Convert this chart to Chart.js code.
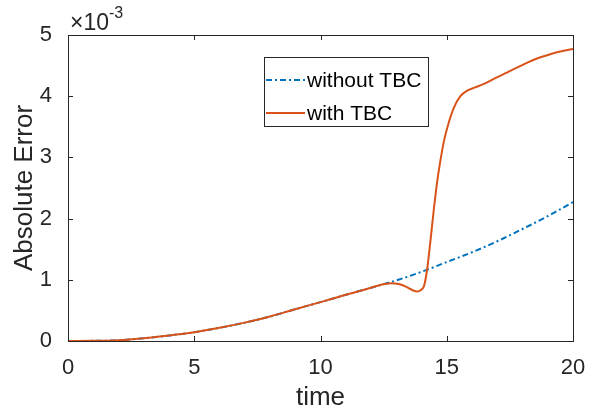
<!DOCTYPE html>
<html>
<head>
<meta charset="utf-8">
<script src="https://cdn.jsdelivr.net/npm/chart.js@4.4.0/dist/chart.umd.min.js"></script>
<style>
  html, body { margin: 0; padding: 0; background: #fff; }
  #wrap { width: 606px; height: 409px; }
</style>
</head>
<body>
<div id="wrap"><canvas id="errChart" width="606" height="409"></canvas></div>
<script>
// values are in units of 1e-3 (axis shows x10^-3)
const tWithout = [0, 1, 2, 3, 4, 5, 6, 7, 8, 9, 10, 11, 12, 13, 14, 15, 16, 17, 18, 19, 20];
const errWithout = [0, 0.003, 0.012, 0.045, 0.09, 0.144, 0.215, 0.30, 0.40, 0.52, 0.635, 0.755, 0.87, 0.99, 1.13, 1.29, 1.45, 1.63, 1.83, 2.04, 2.27];

const tWith = [0, 1, 2, 3, 4, 5, 6, 7, 8, 9, 10, 11, 12, 12.4, 12.8, 13.1, 13.4, 13.7, 13.85, 14.0, 14.1, 14.22, 14.35, 14.48, 14.62, 14.75, 14.88, 15.08, 15.28, 15.54, 15.81, 16.1, 16.47, 16.9, 17.4, 17.8, 18.19, 18.6, 18.98, 19.5, 20];
const errWith = [0, 0.003, 0.012, 0.045, 0.09, 0.144, 0.215, 0.30, 0.40, 0.52, 0.635, 0.755, 0.87, 0.92, 0.945, 0.93, 0.885, 0.82, 0.81, 0.84, 0.9, 1.16, 1.62, 2.12, 2.6, 2.95, 3.25, 3.57, 3.81, 4.0, 4.09, 4.14, 4.2, 4.29, 4.39, 4.47, 4.55, 4.62, 4.67, 4.73, 4.77];

const xTicks = [0, 5, 10, 15, 20];
const yTicks = [0, 1, 2, 3, 4, 5];
const seriesLabels = ["without TBC", "with TBC"];

const blue = "#0072BD";
const red = "#D95319";
const axisColor = "#262626";
const fontFam = "'Liberation Sans', Arial, Helvetica, sans-serif";

function toPoints(xs, ys) {
  return xs.map((x, i) => ({ x: x, y: ys[i] }));
}

// box, inward ticks, legend and the exponent label, MATLAB style
const matlabAxes = {
  id: "matlabAxes",
  afterDraw(chart) {
    const { ctx, chartArea: a, scales } = chart;
    const xs = scales.x, ys = scales.y;
    ctx.save();
    ctx.strokeStyle = axisColor;
    ctx.lineWidth = 1;
    ctx.strokeRect(a.left + 0.5, a.top + 0.5, a.right - a.left, a.bottom - a.top);
    const tl = 5;
    ctx.beginPath();
    xTicks.forEach(v => {
      const px = Math.round(xs.getPixelForValue(v)) + 0.5;
      ctx.moveTo(px, a.bottom); ctx.lineTo(px, a.bottom - tl);
      ctx.moveTo(px, a.top); ctx.lineTo(px, a.top + tl);
    });
    yTicks.forEach(v => {
      const py = Math.round(ys.getPixelForValue(v)) + 0.5;
      ctx.moveTo(a.left, py); ctx.lineTo(a.left + tl, py);
      ctx.moveTo(a.right, py); ctx.lineTo(a.right - tl, py);
    });
    ctx.stroke();

    // x10^-3
    ctx.fillStyle = axisColor;
    ctx.textBaseline = "alphabetic";
    ctx.textAlign = "left";
    ctx.font = "23px " + fontFam;
    ctx.fillText("\u00d710", a.left + 2, a.top - 5);
    const w = ctx.measureText("\u00d710").width;
    ctx.font = "16px " + fontFam;
    ctx.fillText("-3", a.left + 2 + w, a.top - 17);

    // legend
    const lx = 264, ly = 57, lw = 164, lh = 69;
    ctx.fillStyle = "#fff";
    ctx.fillRect(lx, ly, lw, lh);
    ctx.strokeStyle = axisColor;
    ctx.strokeRect(lx + 0.5, ly + 0.5, lw, lh);
    ctx.font = "21px " + fontFam;
    ctx.textBaseline = "middle";
    chart.data.datasets.forEach((ds, i) => {
      const rowY = ly + 23 + i * 33;
      ctx.strokeStyle = ds.borderColor;
      ctx.lineWidth = 2;
      ctx.setLineDash(ds.borderDash || []);
      ctx.beginPath();
      ctx.moveTo(lx + 2, rowY); ctx.lineTo(lx + 41, rowY);
      ctx.stroke();
      ctx.setLineDash([]);
      ctx.fillStyle = "#000";
      ctx.fillText(ds.label, lx + 43, rowY + 1);
    });
    ctx.restore();
  }
};

window.addEventListener("DOMContentLoaded", () => {
  const ctx = document.getElementById("errChart").getContext("2d");
  new Chart(ctx, {
    type: "line",
    data: {
      datasets: [{
        label: seriesLabels[0],
        data: toPoints(tWithout, errWithout),
        borderColor: blue,
        borderWidth: 2,
        borderDash: [6, 3, 2, 3],
        pointRadius: 0,
        cubicInterpolationMode: "monotone",
        order: 1
      }, {
        label: seriesLabels[1],
        data: toPoints(tWith, errWith),
        borderColor: red,
        borderWidth: 2,
        pointRadius: 0,
        cubicInterpolationMode: "monotone",
        order: 0
      }]
    },
    options: {
      responsive: false,
      animation: false,
      layout: { padding: { top: 35, right: 33, left: 0, bottom: 0 } },
      plugins: { legend: { display: false }, tooltip: { enabled: false } },
      scales: {
        x: {
          type: "linear",
          min: 0, max: 20,
          afterBuildTicks: s => { s.ticks = xTicks.map(v => ({ value: v })); },
          afterFit: s => { s.height = 68; },
          grid: { display: false },
          border: { display: false },
          ticks: { color: axisColor, font: { size: 22, family: fontFam }, padding: 6 },
          title: { display: true, text: "time", color: axisColor, font: { size: 26, family: fontFam }, padding: { top: 0, bottom: -4 } }
        },
        y: {
          min: 0, max: 5,
          afterBuildTicks: s => { s.ticks = yTicks.map(v => ({ value: v })); },
          afterFit: s => { s.width = 68; },
          grid: { display: false },
          border: { display: false },
          ticks: { color: axisColor, font: { size: 22, family: fontFam }, padding: 8 },
          title: { display: true, text: "Absolute Error", color: axisColor, font: { size: 26, family: fontFam }, padding: { top: 9, bottom: 0 } }
        }
      }
    },
    plugins: [matlabAxes]
  });
});
</script>
</body>
</html>
